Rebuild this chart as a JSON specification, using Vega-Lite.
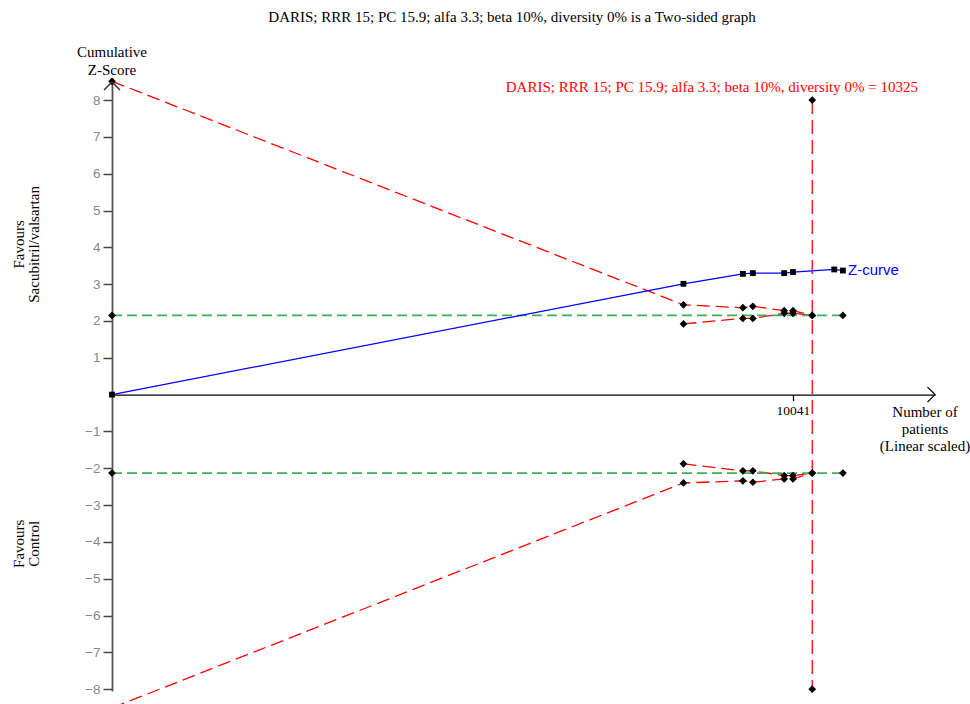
{
  "$schema": "https://vega.github.io/schema/vega-lite/v6.json",
  "width": 823,
  "height": 613,
  "autosize": "none",
  "padding": {"left": 112, "top": 78, "right": 35, "bottom": 13},
  "background": "white",
  "config": {"view": {"stroke": null}, "font": "Liberation Serif"},
  "datasets": {
    "tsa": [
      {"series": "zcurve", "n": 0, "z": 0},
      {"series": "zcurve", "n": 8426, "z": 3.01},
      {"series": "zcurve", "n": 9302, "z": 3.28},
      {"series": "zcurve", "n": 9449, "z": 3.30},
      {"series": "zcurve", "n": 9911, "z": 3.30},
      {"series": "zcurve", "n": 10041, "z": 3.33},
      {"series": "zcurve", "n": 10649, "z": 3.40},
      {"series": "zcurve", "n": 10777, "z": 3.37},
      {"series": "upper", "n": 0, "z": 8.51},
      {"series": "upper", "n": 8426, "z": 2.44},
      {"series": "upper", "n": 9302, "z": 2.36},
      {"series": "upper", "n": 9449, "z": 2.40},
      {"series": "upper", "n": 9911, "z": 2.28},
      {"series": "upper", "n": 10041, "z": 2.28},
      {"series": "upper", "n": 10325, "z": 2.15},
      {"series": "upperInner", "n": 8426, "z": 1.92},
      {"series": "upperInner", "n": 9302, "z": 2.07},
      {"series": "upperInner", "n": 9449, "z": 2.07},
      {"series": "upperInner", "n": 9911, "z": 2.21},
      {"series": "upperInner", "n": 10041, "z": 2.21},
      {"series": "upperInner", "n": 10325, "z": 2.15},
      {"series": "lower", "n": 0, "z": -8.51},
      {"series": "lower", "n": 8426, "z": -2.40},
      {"series": "lower", "n": 9302, "z": -2.34},
      {"series": "lower", "n": 9449, "z": -2.38},
      {"series": "lower", "n": 9911, "z": -2.29},
      {"series": "lower", "n": 10041, "z": -2.29},
      {"series": "lower", "n": 10325, "z": -2.13},
      {"series": "lowerInner", "n": 8426, "z": -1.88},
      {"series": "lowerInner", "n": 9302, "z": -2.07},
      {"series": "lowerInner", "n": 9449, "z": -2.07},
      {"series": "lowerInner", "n": 9911, "z": -2.20},
      {"series": "lowerInner", "n": 10041, "z": -2.20},
      {"series": "lowerInner", "n": 10325, "z": -2.13},
      {"series": "vertical", "n": 10325, "z": 8},
      {"series": "vertical", "n": 10325, "z": -8},
      {"series": "greenUpper", "n": 0, "z": 2.15},
      {"series": "greenUpper", "n": 10777, "z": 2.15},
      {"series": "greenLower", "n": 0, "z": -2.13},
      {"series": "greenLower", "n": 10777, "z": -2.13}
    ]
  },
  "layer": [
    {
      "data": {"name": "tsa"},
      "encoding": {
        "x": {
          "field": "n",
          "type": "quantitative",
          "scale": {"domain": [0, 12135], "nice": false, "zero": false},
          "axis": {
            "values": [10041],
            "format": "d",
            "offset": -296.4,
            "grid": false,
            "title": null,
            "domainColor": "black",
            "domainWidth": 1.3,
            "tickColor": "black",
            "tickSize": 6,
            "tickWidth": 1.3,
            "labelFont": "Liberation Serif",
            "labelFontSize": 13.5,
            "labelColor": "black",
            "labelPadding": 3
          }
        },
        "y": {
          "field": "z",
          "type": "quantitative",
          "scale": {"domain": [-8.05, 8.6], "nice": false, "zero": false},
          "axis": {
            "values": [-8, -7, -6, -5, -4, -3, -2, -1, 1, 2, 3, 4, 5, 6, 7, 8],
            "domain": true,
            "domainColor": "#555555",
            "domainWidth": 1.8,
            "grid": false,
            "title": null,
            "tickColor": "#444444",
            "tickSize": 9,
            "tickWidth": 1.5,
            "labelFont": "Liberation Sans",
            "labelFontSize": 13.5,
            "labelColor": "#888888",
            "labelPadding": 3
          }
        }
      },
      "layer": [
        {
          "transform": [{"filter": "indexof(['upper','upperInner','lower','lowerInner'], datum.series) >= 0"}],
          "mark": {"type": "line", "color": "#ff0000", "strokeWidth": 1.3, "strokeDash": [13, 6]},
          "encoding": {"detail": {"field": "series"}}
        },
        {
          "transform": [{"filter": "datum.series == 'vertical'"}],
          "mark": {"type": "line", "color": "#ff0000", "strokeWidth": 1.3, "strokeDash": [14, 6]},
          "encoding": {"detail": {"field": "series"}}
        },
        {
          "transform": [{"filter": "datum.series == 'greenUpper' || datum.series == 'greenLower'"}],
          "mark": {"type": "line", "color": "#3fae55", "strokeWidth": 1.8, "strokeDash": [10, 5]},
          "encoding": {"detail": {"field": "series"}}
        },
        {
          "transform": [{"filter": "datum.series == 'zcurve'"}],
          "mark": {"type": "line", "color": "#0000ff", "strokeWidth": 1.3},
          "encoding": {}
        },
        {
          "transform": [{"filter": "datum.series != 'zcurve'"}],
          "mark": {"type": "point", "shape": "diamond", "filled": true, "color": "#000000", "size": 60, "opacity": 1},
          "encoding": {}
        },
        {
          "transform": [{"filter": "datum.series == 'zcurve'"}],
          "mark": {"type": "point", "shape": "square", "filled": true, "color": "#000000", "size": 34, "opacity": 1},
          "encoding": {}
        }
      ]
    },
    {
      "data": {"values": [{}]},
      "mark": {"type": "point", "shape": "M-1,1L0,0L1,1", "filled": false, "stroke": "#333333", "strokeWidth": 1.5, "size": 256, "opacity": 1},
      "encoding": {"x": {"datum": 0}, "y": {"datum": 8.49}}
    },
    {
      "data": {"values": [{}]},
      "mark": {"type": "point", "shape": "M-1,-1L0,0L-1,1", "filled": false, "stroke": "#000000", "strokeWidth": 1.3, "size": 225, "opacity": 1},
      "encoding": {"x": {"datum": 12135}, "y": {"datum": 0}}
    },
    {
      "data": {"values": [{}]},
      "mark": {"type": "text", "text": "DARIS; RRR 15; PC 15.9; alfa 3.3; beta 10%, diversity 0% is a Two-sided graph", "font": "Liberation Serif", "fontSize": 15, "align": "center", "baseline": "alphabetic", "color": "black"},
      "encoding": {"x": {"datum": 5898}, "y": {"datum": 10.12}}
    },
    {
      "data": {"values": [{}]},
      "mark": {"type": "text", "text": "Cumulative", "font": "Liberation Serif", "fontSize": 15, "align": "center", "baseline": "alphabetic", "color": "black"},
      "encoding": {"x": {"datum": 0}, "y": {"datum": 9.17}}
    },
    {
      "data": {"values": [{}]},
      "mark": {"type": "text", "text": "Z-Score", "font": "Liberation Serif", "fontSize": 15, "align": "center", "baseline": "alphabetic", "color": "black"},
      "encoding": {"x": {"datum": 0}, "y": {"datum": 8.69}}
    },
    {
      "data": {"values": [{}]},
      "mark": {"type": "text", "text": "DARIS; RRR 15; PC 15.9; alfa 3.3; beta 10%, diversity 0% = 10325", "font": "Liberation Serif", "fontSize": 15, "align": "right", "baseline": "alphabetic", "color": "#ff0000"},
      "encoding": {"x": {"datum": 11884}, "y": {"datum": 8.22}}
    },
    {
      "data": {"values": [{}]},
      "mark": {"type": "text", "text": "Z-curve", "font": "Liberation Sans", "fontSize": 15, "align": "left", "baseline": "middle", "color": "#0000ff"},
      "encoding": {"x": {"datum": 10852}, "y": {"datum": 3.38}}
    },
    {
      "data": {"values": [{}]},
      "mark": {"type": "text", "text": "Number of", "font": "Liberation Serif", "fontSize": 15, "align": "center", "baseline": "alphabetic", "color": "black"},
      "encoding": {"x": {"datum": 11988}, "y": {"datum": -0.61}}
    },
    {
      "data": {"values": [{}]},
      "mark": {"type": "text", "text": "patients", "font": "Liberation Serif", "fontSize": 15, "align": "center", "baseline": "alphabetic", "color": "black"},
      "encoding": {"x": {"datum": 11988}, "y": {"datum": -1.07}}
    },
    {
      "data": {"values": [{}]},
      "mark": {"type": "text", "text": "(Linear scaled)", "font": "Liberation Serif", "fontSize": 15, "align": "center", "baseline": "alphabetic", "color": "black"},
      "encoding": {"x": {"datum": 11988}, "y": {"datum": -1.53}}
    },
    {
      "data": {"values": [{}]},
      "mark": {"type": "text", "text": "Favours", "font": "Liberation Serif", "fontSize": 15, "align": "center", "baseline": "middle", "angle": 270, "color": "black"},
      "encoding": {"x": {"datum": -1371}, "y": {"datum": 4.08}}
    },
    {
      "data": {"values": [{}]},
      "mark": {"type": "text", "text": "Sacubitril/valsartan", "font": "Liberation Serif", "fontSize": 15, "align": "center", "baseline": "middle", "angle": 270, "color": "black"},
      "encoding": {"x": {"datum": -1150}, "y": {"datum": 4.08}}
    },
    {
      "data": {"values": [{}]},
      "mark": {"type": "text", "text": "Favours", "font": "Liberation Serif", "fontSize": 15, "align": "center", "baseline": "middle", "angle": 270, "color": "black"},
      "encoding": {"x": {"datum": -1371}, "y": {"datum": -4.05}}
    },
    {
      "data": {"values": [{}]},
      "mark": {"type": "text", "text": "Control", "font": "Liberation Serif", "fontSize": 15, "align": "center", "baseline": "middle", "angle": 270, "color": "black"},
      "encoding": {"x": {"datum": -1150}, "y": {"datum": -4.05}}
    }
  ]
}
